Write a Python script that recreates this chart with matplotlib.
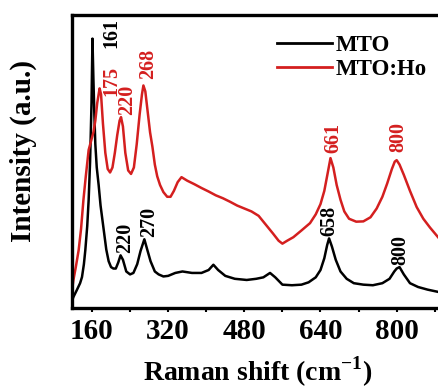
import matplotlib
matplotlib.use("Agg")
import matplotlib.pyplot as plt
from matplotlib.ticker import MultipleLocator, NullLocator, FixedLocator

# Raman spectra, shift in cm^-1 and intensity in arbitrary units (0-100)
mto_shift = [118, 121, 128, 135, 139, 143, 146, 150, 153, 156, 159, 161,
             163, 165, 167, 170, 174, 178, 182, 186, 190, 195, 200, 205,
             210, 215, 220, 225, 232, 240, 247, 255, 262, 270, 276, 283,
             292, 300, 310, 320, 335, 350, 370, 390, 405, 415, 425, 440,
             460, 485, 505, 520, 534, 545, 560, 580, 600, 615, 630, 640,
             648, 654, 658, 664, 672, 682, 695, 710, 730, 750, 770, 785,
             795, 800, 806, 815, 828, 845, 865, 888]
mto_int = [2.5, 3.8, 6.1, 8.5, 10.6, 15, 19.8, 28, 37, 50, 70, 92,
           78, 66, 56, 48, 42, 35, 30, 25, 20, 16, 14, 13.5,
           13.5, 15.5, 18, 16.5, 12.5, 11.5, 12, 15, 19.5, 23.5, 20, 16,
           12.5, 11.5, 10.8, 11, 12, 12.5, 12, 12, 13, 14.8, 13, 11,
           10, 9.6, 10, 10.5, 12, 10.5, 8, 7.8, 8, 8.8, 10.5, 13,
           17, 21.5, 23.8, 21, 16.5, 12.5, 10, 8.5, 8, 7.8, 8.5, 10,
           12.5, 13.5, 14, 11.5, 8.5, 7.2, 6.3, 5.5]

ho_shift = [118, 121, 126, 132, 137, 142, 147, 153, 158, 163, 167, 171,
            176, 179, 183, 188, 193, 198, 203, 208, 213, 218, 221, 225,
            230, 236, 242, 248, 254, 260, 265, 268, 272, 277, 282, 287,
            292, 297, 303, 310, 318, 325, 332, 340, 348, 360, 375, 390,
            405, 420, 435, 450, 465, 480, 495, 510, 525, 540, 552, 560,
            570, 583, 600, 618, 630, 640, 648, 655, 661, 667, 674, 682,
            690, 700, 715, 730, 745, 758, 770, 780, 790, 796, 800, 806,
            815, 828, 842, 856, 870, 888]
ho_int = [6, 9.6, 14, 19.8, 27, 36.9, 45, 54, 57, 60, 64, 70,
          75, 73, 63, 53, 47.5, 46.3, 48, 53, 59, 64, 65.2, 62,
          53, 47, 45.8, 48, 56, 66, 73, 76, 74, 67, 60, 55,
          49, 45, 42, 39.6, 38, 38, 40, 43, 44.7, 43.5, 42.3, 41,
          39.8, 38.5, 37.5, 36.3, 35, 34, 33, 31.5, 28.5, 25.5, 23, 22,
          23, 24.2, 26.5, 29, 32, 35.5, 40, 46, 51.2, 48, 42, 37,
          33, 30.5, 29.5, 29.6, 31, 34, 38, 42.5, 47.5, 50, 50.5, 49,
          45.5, 40, 34.5, 30.5, 27.5, 24]

# peak annotations: text, x, y
mto_peaks = [("161", 201, 94), ("220", 230, 24), ("270", 280, 29.5),
             ("658", 658, 29.7), ("800", 807, 19.8)]
ho_peaks = [("175", 201.5, 77.5), ("220", 234.5, 71.2), ("268", 277, 83.3),
            ("661", 667, 58), ("800", 803, 58.4)]

red = "#d41f1f"
plt.rcParams["font.family"] = ["Liberation Serif", "DejaVu Serif"]
plt.rcParams["font.weight"] = "bold"
plt.rcParams["mathtext.fontset"] = "custom"
plt.rcParams["mathtext.rm"] = "Liberation Serif:bold"
plt.rcParams["mathtext.bf"] = "Liberation Serif:bold"

fig = plt.figure(figsize=(4.39, 3.89), dpi=100)
ax = fig.add_axes([0.164, 0.208, 0.848, 0.753])

ax.plot(mto_shift, mto_int, color="black", lw=1.8, label="MTO")
ax.plot(ho_shift, ho_int, color=red, lw=1.8, label="MTO:Ho")

for txt, x, y in mto_peaks:
    ax.text(x, y, txt, rotation=90, ha="center", va="center",
            fontsize=14.5, fontweight="bold", color="black")
for txt, x, y in ho_peaks:
    ax.text(x, y, txt, rotation=90, ha="center", va="center",
            fontsize=14.5, fontweight="bold", color=red)

ax.set_xlim(118, 900)
ax.set_ylim(0, 100)
ax.xaxis.set_major_locator(FixedLocator([160, 320, 480, 640, 800]))
ax.xaxis.set_minor_locator(MultipleLocator(80))
ax.yaxis.set_major_locator(NullLocator())
ax.tick_params(axis="x", which="both", direction="out", length=3,
               width=1.5, labelsize=21, pad=4)
for lbl in ax.get_xticklabels():
    lbl.set_fontweight("bold")
for sp in ax.spines.values():
    sp.set_linewidth(2.4)

ax.set_xlabel("Raman shift (cm$^{\\mathrm{-1}}$)", fontsize=20,
              fontweight="bold", labelpad=7)
ax.set_ylabel("Intensity (a.u.)", fontsize=21, fontweight="bold")
ax.yaxis.set_label_coords(-0.095, 0.535)

leg = ax.legend(loc="upper left", bbox_to_anchor=(0.527, 0.965),
                frameon=False, fontsize=16.5, handlelength=2.4,
                handletextpad=0.15, labelspacing=0.15, borderaxespad=0)
for line in leg.get_lines():
    line.set_linewidth(2)

fig.savefig("out.png", dpi=100)
